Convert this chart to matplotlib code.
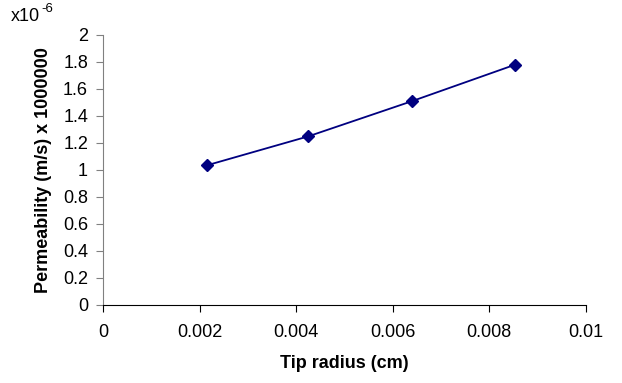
import matplotlib
matplotlib.use("Agg")
import matplotlib.pyplot as plt

plt.rcParams['font.family'] = ['Liberation Sans', 'DejaVu Sans']

tip_radius = [0.00214, 0.00425, 0.00639, 0.00853]
permeability = [1.032, 1.247, 1.506, 1.776]
x_ticks = [0, 0.002, 0.004, 0.006, 0.008, 0.01]
x_tick_labels = ["0", "0.002", "0.004", "0.006", "0.008", "0.01"]
y_ticks = [0, 0.2, 0.4, 0.6, 0.8, 1, 1.2, 1.4, 1.6, 1.8, 2]
y_tick_labels = ["0", "0.2", "0.4", "0.6", "0.8", "1", "1.2", "1.4", "1.6", "1.8", "2"]

fig = plt.figure(figsize=(6.22, 3.83), dpi=100)
ax = fig.add_axes([0.1661, 0.2037, 0.7755, 0.7062])
color = '#000080'
ax.plot(tip_radius, permeability, color=color, lw=1.3, marker='D', ms=6.5,
        markerfacecolor=color, markeredgecolor=color, clip_on=False)
ax.set_xlim(0, 0.01)
ax.set_ylim(0, 2)
ax.set_xticks(x_ticks)
ax.set_xticklabels(x_tick_labels)
ax.set_yticks(y_ticks)
ax.set_yticklabels(y_tick_labels)
for s in ['top', 'right']:
    ax.spines[s].set_visible(False)
ax.spines['bottom'].set_color('#000000')
ax.spines['bottom'].set_linewidth(0.8)
ax.spines['left'].set_color('#808080')
ax.spines['left'].set_linewidth(0.8)
ax.tick_params(axis='both', direction='out', length=5, width=0.8, labelsize=13, colors='black')
ax.tick_params(axis='x', pad=9)
ax.tick_params(axis='y', pad=6, color='#808080')
ax.set_xlabel('Tip radius (cm)', fontsize=13, fontweight='bold', labelpad=10)
ax.set_ylabel('Permeability (m/s) x 1000000', fontsize=13, fontweight='bold', labelpad=8)
fig.text(0.018, 0.935, 'x10', fontsize=13, ha='left', va='bottom')
fig.text(0.066, 0.962, '-6', fontsize=9.5, ha='left', va='bottom')
fig.savefig('out.png', dpi=100)
